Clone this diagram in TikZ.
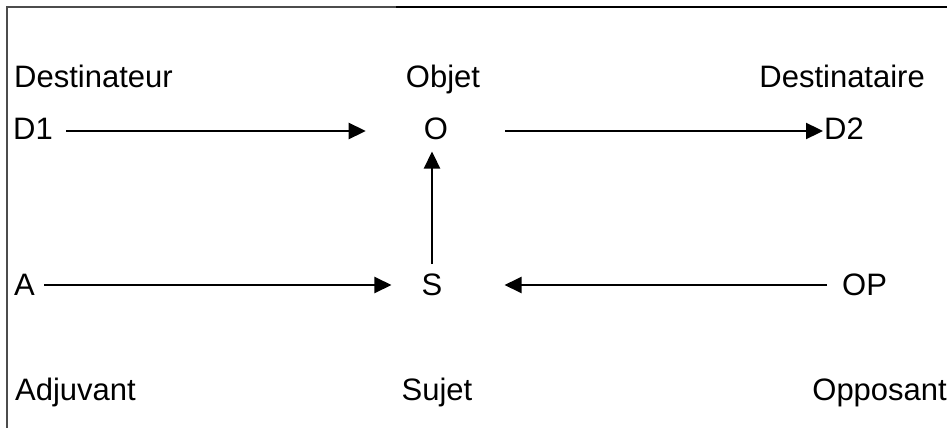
\documentclass[tikz,border=0pt]{standalone}
\usepackage{fontspec}
\setmainfont{Liberation Sans}
\usetikzlibrary{arrows.meta}
\begin{document}
\begin{tikzpicture}[x=1pt,y=-1pt,
  lbl/.style={inner sep=0pt, font=\fontsize{31}{36}\selectfont},
  link/.style={line width=2.3pt, -{Triangle[length=17pt,width=16pt]}},
  frame/.style={line width=1.4pt, draw=black!70},
]
\useasboundingbox (0,0) rectangle (947,428);

% frame: top rule and left rule
\draw[frame] (7,428) -- (7,7) -- (396,7);
\draw[line width=2.2pt] (396,7) -- (947,7);

% actantial labels
\node[lbl,anchor=base west] (destinateur) at (14,88) {Destinateur};
\node[lbl,anchor=base] (objet) at (443,87) {Objet};
\node[lbl,anchor=base east] (destinataire) at (925,88) {Destinataire};
\node[lbl,anchor=base west] (d1) at (13,139) {D1};
\node[lbl,anchor=base] (o) at (436,139) {O};
\node[lbl,anchor=base west] (d2) at (824,139) {D2};
\node[lbl,anchor=base west] (a) at (14,295) {A};
\node[lbl,anchor=base] (s) at (432,295) {S};
\node[lbl,anchor=base west] (op) at (842,295) {OP};
\node[lbl,anchor=base west] (adjuvant) at (15,400) {Adjuvant};
\node[lbl,anchor=base] (sujet) at (437,400) {Sujet};
\node[lbl,anchor=base east] (opposant) at (947,400) {Opposant};

% arrows between the actants
\draw[link] ([shift={(13pt,8pt)}]d1.base east) -- ([shift={(-58pt,8pt)}]o.base west);
\draw[link] ([shift={(57pt,8pt)}]o.base east) -- ([shift={(-1pt,8pt)}]d2.base west);
\draw[link] ([shift={(9pt,10pt)}]a.base east) -- ([shift={(-30pt,10pt)}]s.base west);
\draw[link] ([shift={(-15pt,10pt)}]op.base west) -- ([shift={(62pt,10pt)}]s.base east);
\draw[link, shorten <=9pt, shorten >=12pt] (s.north) -- (s.north |- o.south);
\end{tikzpicture}
\end{document}
